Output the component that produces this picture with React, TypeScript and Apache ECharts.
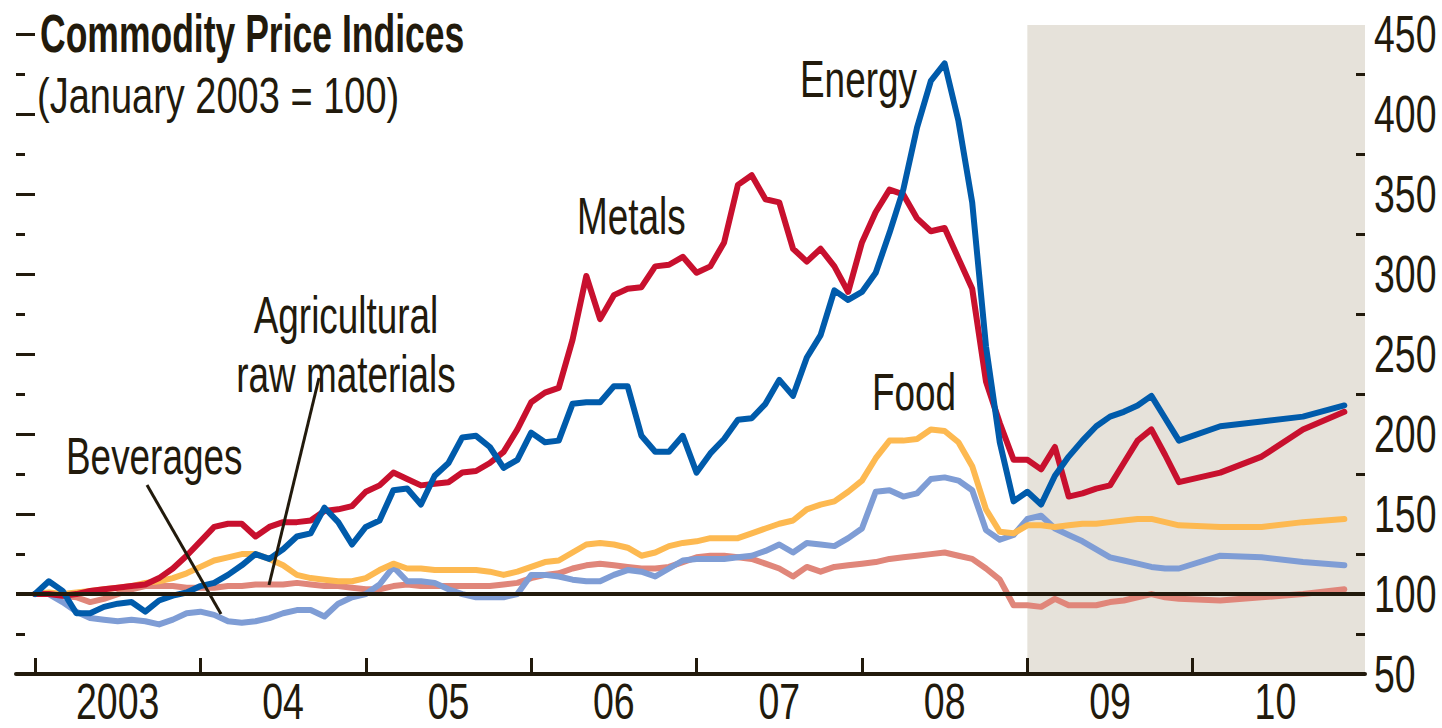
import React, { useEffect, useRef } from "react";
import * as echarts from "echarts";

// ---- categories (months) ----
const histMonths: string[] = [];
for (let y = 2003; y <= 2008; y++) {
  for (let m = 1; m <= 12; m++) histMonths.push(`${y}-${String(m).padStart(2, "0")}`);
}
const projMonths = [
  "2009-01", "2009-02", "2009-03", "2009-04", "2009-05", "2009-06",
  "2009-07", "2009-08", "2009-09", "2009-10", "2009-11", "2009-12",
  "2010-03", "2010-06", "2010-09", "2010-12",
];
const allMonths = histMonths.concat(projMonths);
const projectionStart = "2009-01";

// ---- tick labels ----
const xTickLabels = ["2003", "04", "05", "06", "07", "08", "09", "10"];
const yTickLabels = [50, 100, 150, 200, 250, 300, 350, 400, 450];
const yMinorTicks = [75, 125, 175, 225, 275, 325, 375, 425];

// ---- series values (January 2003 = 100) ----
const metals = [
  100, 100, 99, 100, 102, 103, 104, 105, 106, 110, 116, 124,
  133, 142, 144, 144, 136, 142, 145, 145, 146, 152, 153, 155,
  164, 168, 176, 172, 168, 169, 170, 176, 177, 182, 189, 203,
  220, 226, 229, 259, 299, 272, 287, 291, 292, 305, 306, 311,
  301, 305, 320, 356, 362, 347, 345, 316, 308, 316, 305, 289,
  320, 339, 353, 350, 335, 327, 329, 310, 291, 233, 207, 184,
  184, 178, 192, 161, 163, 166, 168, 182, 196, 203, 187, 170,
  176, 186, 203, 214,
];
const energy = [
  100, 108, 102, 88, 88, 92, 94, 95, 89, 96, 99, 101,
  105, 107, 112, 118, 125, 122, 128, 136, 138, 154, 145, 131,
  142, 146, 165, 166, 156, 174, 182, 198, 199, 192, 179, 184,
  201, 195, 196, 219, 220, 220, 230, 230, 199, 189, 189, 199,
  176, 188, 197, 209, 210, 219, 234, 224, 248, 262, 290, 284,
  289, 301, 326, 353, 392, 421, 432, 396, 345, 255, 195, 158,
  164, 156, 174, 186, 196, 205, 211, 214, 218, 224, 210, 196,
  205, 208, 211, 218,
];
const food = [
  100, 101, 100, 101, 102, 103, 104, 105, 107, 108, 110, 113,
  117, 121, 123, 125, 125, 122, 118, 112, 110, 109, 108, 108,
  110, 115, 119, 116, 116, 115, 115, 115, 115, 114, 112, 114,
  117, 120, 121, 126, 131, 132, 131, 129, 124, 126, 130, 132,
  133, 135, 135, 135, 138, 141, 144, 146, 153, 156, 158, 164,
  171, 185, 196, 196, 197, 203, 202, 195, 180, 153, 139, 138,
  143, 143, 142, 143, 144, 144, 145, 146, 147, 147, 145, 143,
  142, 142, 145, 147,
];
const beverages = [
  100, 100, 95, 89, 85, 84, 83, 84, 83, 81, 84, 88,
  89, 87, 83, 82, 83, 85, 88, 90, 90, 86, 94, 98,
  100, 106, 117, 108, 108, 107, 103, 100, 98, 98, 98, 100,
  112, 112, 111, 109, 108, 108, 112, 115, 114, 111, 116, 121,
  122, 122, 122, 123, 124, 127, 131, 126, 132, 131, 130, 135,
  141, 164, 165, 161, 163, 172, 173, 171, 165, 140, 134, 137,
  147, 149, 141, 137, 133, 128, 123, 121, 119, 117, 116, 116,
  124, 123, 120, 118,
];
const agricultural = [
  100, 100, 99, 98, 95, 97, 100, 103, 105, 105, 105, 104,
  104, 104, 105, 105, 106, 106, 106, 107, 106, 105, 105, 104,
  103, 103, 105, 106, 105, 105, 105, 105, 105, 105, 106, 107,
  110, 112, 113, 116, 118, 119, 118, 117, 116, 116, 117, 120,
  123, 124, 124, 123, 122, 119, 116, 111, 117, 114, 117, 118,
  119, 120, 122, 123, 124, 125, 126, 124, 122, 116, 109, 93,
  93, 92, 97, 93, 93, 93, 95, 96, 98, 100, 98, 97,
  96, 98, 100, 103,
];

const INK = "#221a0c";
const FONT = "'Liberation Sans', Arial, sans-serif";
const COLORS = {
  metals: "#c8102e",
  energy: "#005bab",
  food: "#fdb951",
  beverages: "#7f9dd5",
  agricultural: "#e0867a",
  shade: "#e6e2da",
};

const monthIndex = (s: string) => {
  const [y, m] = s.split("-").map(Number);
  return (y - 2003) * 12 + (m - 1);
};
const toPairs = (vals: number[]) => allMonths.map((d, i) => [monthIndex(d), vals[i]]);

const xTicks = xTickLabels.map((_, i) => i * 12);
const xLabelPos = xTickLabels.map((_, i) => i * 12 + 6);
const X_MIN = -1.38;
const X_MAX = 96.5;

const condensedText = (
  text: string,
  x: number,
  y: number,
  opts: { size?: number; sx?: number; align?: string; weight?: string; lh?: number } = {}
) => ({
  type: "text",
  x,
  y,
  z: 20,
  scaleX: opts.sx ?? 0.71,
  silent: true,
  style: {
    text,
    fill: INK,
    font: `${opts.weight ?? "normal"} ${opts.size ?? 52}px ${FONT}`,
    textAlign: opts.align ?? "left",
    textVerticalAlign: "middle",
    lineHeight: opts.lh ?? 44,
  },
});

export default function App() {
  const ref = useRef<HTMLDivElement>(null);
  useEffect(() => {
    if (!ref.current) return;
    const chart = echarts.init(ref.current, undefined, { renderer: "svg" });
    const yBase = {
      type: "value" as const,
      min: 50,
      max: 456,
      axisLine: { show: false },
      splitLine: { show: false },
      axisLabel: { show: false },
      z: 10,
    };
    const tickStyle = { color: INK, width: 3 };
    const lineSeries = (name: string, vals: number[], color: string, width = 6) => ({
      name,
      type: "line",
      data: toPairs(vals),
      showSymbol: false,
      symbol: "none",
      lineStyle: { color, width, join: "round", cap: "round" },
      z: 3,
      silent: true,
    });
    const option: any = {
      animation: false,
      backgroundColor: "#ffffff",
      grid: { left: 16, right: 77, top: 25, bottom: 54, outerBoundsMode: "none", containLabel: false },
      xAxis: {
        type: "value",
        min: X_MIN,
        max: X_MAX,
        z: 10,
        axisLine: { show: true, lineStyle: { color: INK, width: 4 } },
        axisTick: { show: true, inside: true, length: 16, customValues: xTicks, lineStyle: tickStyle },
        axisLabel: { show: false },
        splitLine: { show: false },
      },
      yAxis: [
        { ...yBase, position: "right", axisTick: { show: true, inside: true, length: 15, customValues: yTickLabels, lineStyle: tickStyle } },
        { ...yBase, position: "right", axisTick: { show: true, inside: true, length: 9, customValues: yMinorTicks, lineStyle: tickStyle } },
        { ...yBase, position: "left", axisTick: { show: true, inside: true, length: 15, customValues: yTickLabels, lineStyle: tickStyle } },
        { ...yBase, position: "left", axisTick: { show: true, inside: true, length: 9, customValues: yMinorTicks, lineStyle: tickStyle } },
      ],
      series: [
        {
          name: "projection",
          type: "line",
          data: [[0, 100]],
          showSymbol: false,
          lineStyle: { width: 0 },
          z: 1,
          silent: true,
          markArea: {
            silent: true,
            itemStyle: { color: COLORS.shade },
            data: [[{ xAxis: monthIndex(projectionStart) }, { xAxis: X_MAX }]],
          },
        },
        lineSeries("Agricultural raw materials", agricultural, COLORS.agricultural),
        lineSeries("Beverages", beverages, COLORS.beverages),
        lineSeries("Food", food, COLORS.food),
        lineSeries("Metals", metals, COLORS.metals),
        lineSeries("Energy", energy, COLORS.energy),
        {
          name: "base",
          type: "line",
          data: [[0, 100]],
          showSymbol: false,
          lineStyle: { width: 0 },
          z: 6,
          silent: true,
          markLine: {
            silent: true,
            symbol: "none",
            label: { show: false },
            lineStyle: { color: INK, width: 4, type: "solid" },
            data: [{ yAxis: 100 }],
          },
        },
      ],
    };
    chart.setOption(option);

    // tick labels placed through the axes' own scales
    const yOf = (v: number) => chart.convertToPixel({ yAxisIndex: 0 }, v) as number;
    const xOf = (v: number) => chart.convertToPixel({ xAxisIndex: 0 }, v) as number;
    const rightEdge = xOf(X_MAX);
    const bottomEdge = yOf(50);
    const axisTexts = [
      ...xLabelPos.map((v, i) =>
        condensedText(xTickLabels[i], xOf(v), bottomEdge + 27, { align: "center", size: 50, sx: 0.75, lh: 36 })
      ),
      ...yTickLabels.map((v) => condensedText(String(v), rightEdge + 9, yOf(v), { sx: 0.72, lh: 40 })),
    ];
    const notes = [
      condensedText("Commodity Price Indices", 40, 34, { weight: "bold", size: 53, sx: 0.67 }),
      condensedText("(January 2003 = 100)", 37, 96, { size: 50, sx: 0.76 }),
      condensedText("Energy", 800, 79),
      condensedText("Metals", 577, 216),
      condensedText("Food", 872, 392),
      condensedText("Agricultural", 346, 315, { align: "center" }),
      condensedText("raw materials", 346, 374, { align: "center" }),
      condensedText("Beverages", 66, 456),
      { type: "line", z: 20, silent: true, shape: { x1: 319, y1: 378, x2: 269, y2: 585 }, style: { stroke: INK, lineWidth: 3 } },
      { type: "line", z: 20, silent: true, shape: { x1: 147, y1: 485, x2: 221, y2: 614 }, style: { stroke: INK, lineWidth: 3 } },
    ];
    chart.setOption({ graphic: [...axisTexts, ...notes] });
    return () => chart.dispose();
  }, []);
  return <div ref={ref} style={{ width: 1442, height: 728, position: "absolute", left: 0, top: 0 }} />;
}
